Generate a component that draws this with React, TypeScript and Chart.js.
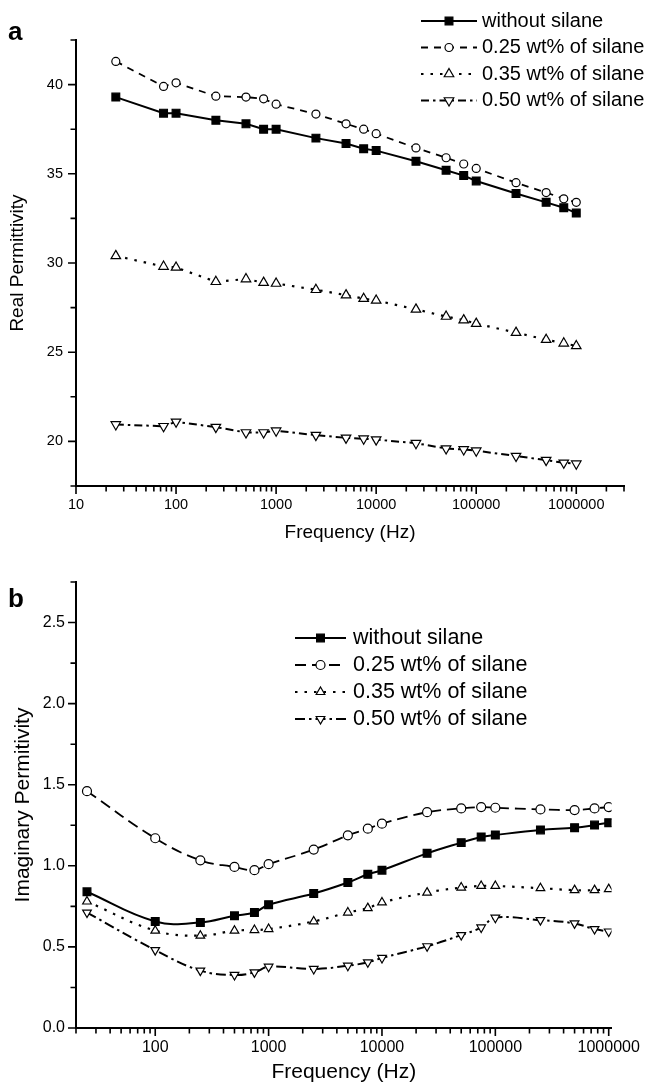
import React, { useEffect, useRef } from 'react';
import { Chart, registerables } from 'chart.js';
import { drawPoint } from 'chart.js/helpers';

Chart.register(...registerables);

const FONT = "'Liberation Sans', Arial, Helvetica, sans-serif";

const seriesNames = ['without silane', '0.25 wt% of silane', '0.35 wt% of silane', '0.50 wt% of silane'];

// ---- Panel a: real permittivity ----
const freqA = [25, 75, 100, 250, 500, 750, 1000, 2500, 5000, 7500, 10000, 25000, 50000, 75000, 100000, 250000, 500000, 750000, 1000000];
const realWithout = [39.3, 38.4, 38.4, 38.0, 37.8, 37.5, 37.5, 37.0, 36.7, 36.4, 36.3, 35.7, 35.2, 34.9, 34.6, 33.9, 33.4, 33.1, 32.8];
const real025 = [41.3, 39.9, 40.1, 39.35, 39.3, 39.2, 38.9, 38.35, 37.8, 37.5, 37.25, 36.45, 35.9, 35.55, 35.3, 34.5, 33.95, 33.6, 33.4];
const real035 = [30.4, 29.8, 29.75, 28.95, 29.1, 28.9, 28.85, 28.5, 28.2, 28.0, 27.9, 27.4, 27.0, 26.8, 26.6, 26.1, 25.7, 25.5, 25.35];
const real050 = [20.95, 20.85, 21.1, 20.8, 20.5, 20.5, 20.6, 20.35, 20.2, 20.15, 20.1, 19.9, 19.6, 19.55, 19.48, 19.18, 18.95, 18.8, 18.75];
const xTickLabelsA = [10, 100, 1000, 10000, 100000, 1000000];
const yTickLabelsA = [20, 25, 30, 35, 40];

// ---- Panel b: imaginary permittivity ----
const freqB = [25, 100, 250, 500, 750, 1000, 2500, 5000, 7500, 10000, 25000, 50000, 75000, 100000, 250000, 500000, 750000, 1000000];
const imagWithout = [0.84, 0.657, 0.651, 0.692, 0.712, 0.76, 0.829, 0.897, 0.948, 0.973, 1.077, 1.143, 1.178, 1.19, 1.221, 1.235, 1.251, 1.266];
const imag025 = [1.46, 1.17, 1.034, 0.993, 0.973, 1.01, 1.1, 1.188, 1.229, 1.26, 1.331, 1.354, 1.362, 1.358, 1.348, 1.344, 1.354, 1.362];
const imag035 = [0.78, 0.6, 0.569, 0.6, 0.604, 0.61, 0.657, 0.712, 0.739, 0.774, 0.835, 0.866, 0.876, 0.876, 0.862, 0.85, 0.85, 0.856];
const imag050 = [0.712, 0.48, 0.354, 0.327, 0.343, 0.378, 0.364, 0.384, 0.405, 0.432, 0.504, 0.573, 0.62, 0.68, 0.665, 0.645, 0.61, 0.595];
const xTickLabelsB = [100, 1000, 10000, 100000, 1000000];
const yTickLabelsB = [0, 0.5, 1, 1.5, 2, 2.5];

// marker / line styles per series (index matches seriesNames)
const STYLES = [
  { pointStyle: 'rect', bg: '#000', rotation: 0, dashA: [] as number[], dashB: [] as number[], width: 2, rA: 5.5, rB: 5.5 },
  { pointStyle: 'circle', bg: '#fff', rotation: 0, dashA: [7, 6], dashB: [11, 6], width: 1.8, rA: 4, rB: 4.5 },
  { pointStyle: 'triangle', bg: '#fff', rotation: 0, dashA: [2.5, 7], dashB: [2.5, 7], width: 2.2, rA: 5.5, rB: 5 },
  { pointStyle: 'triangle', bg: '#fff', rotation: 180, dashA: [8, 4, 2.5, 4], dashB: [10, 4, 2.5, 4], width: 2, rA: 5.5, rB: 5 },
];

function makeDatasets(freq: number[], series: number[][], panel: 'a' | 'b') {
  return series.map((vals, i) => {
    const s = STYLES[i];
    return {
      label: seriesNames[i],
      data: freq.map((f, k) => ({ x: f, y: vals[k] })),
      borderColor: '#000',
      backgroundColor: s.bg,
      borderWidth: s.width,
      borderDash: panel === 'a' ? s.dashA : s.dashB,
      borderCapStyle: 'butt',
      pointStyle: s.pointStyle,
      pointRotation: s.rotation,
      pointRadius: panel === 'a' ? s.rA : s.rB,
      pointBorderWidth: 1.2,
      pointBorderColor: '#000',
      pointBackgroundColor: s.bg,
      tension: panel === 'a' ? 0 : 0.4,
      fill: false,
    };
  });
}

function logTicks(min: number, max: number) {
  const out: { value: number }[] = [];
  for (let e = Math.floor(Math.log10(min)); e <= Math.ceil(Math.log10(max)); e++) {
    for (let m = 1; m <= 9; m++) {
      const v = m * Math.pow(10, e);
      if (v >= min * 0.999999 && v <= max * 1.000001) out.push({ value: v });
    }
  }
  return out;
}

const near = (arr: number[], v: number) => arr.some((t) => Math.abs(t - v) < 1e-6);

const tickMarks = {
  id: 'tickMarks',
  afterDraw(chart: any) {
    const ctx = chart.ctx;
    const xs = chart.scales.x;
    const ys = chart.scales.y;
    const ca = chart.chartArea;
    ctx.save();
    ctx.strokeStyle = '#000';
    ctx.lineWidth = 1.6;
    ctx.beginPath();
    xs.ticks.forEach((t: any) => {
      const p = xs.getPixelForValue(t.value);
      const len = t.label ? 7 : 4.5;
      ctx.moveTo(p, ca.bottom);
      ctx.lineTo(p, ca.bottom + 1 + len);
    });
    ys.ticks.forEach((t: any) => {
      const p = ys.getPixelForValue(t.value);
      const len = t.label ? 7 : 4.5;
      ctx.moveTo(ca.left - 1 - len, p);
      ctx.lineTo(ca.left, p);
    });
    ctx.stroke();
    ctx.restore();
  },
};

const lineLegend = {
  id: 'lineLegend',
  afterDraw(chart: any, _args: any, opts: any) {
    if (!opts || !opts.show) return;
    const ctx = chart.ctx;
    ctx.save();
    chart.data.datasets.forEach((ds: any, i: number) => {
      const y = opts.y + i * opts.dy;
      ctx.save();
      ctx.strokeStyle = '#000';
      ctx.lineWidth = ds.borderWidth;
      ctx.lineCap = 'butt';
      ctx.setLineDash(ds.borderDash || []);
      ctx.beginPath();
      ctx.moveTo(opts.x1, y);
      ctx.lineTo(opts.x2, y);
      ctx.stroke();
      ctx.setLineDash([]);
      ctx.fillStyle = ds.pointBackgroundColor;
      ctx.strokeStyle = '#000';
      ctx.lineWidth = ds.pointBorderWidth;
      drawPoint(ctx, { pointStyle: ds.pointStyle, rotation: ds.pointRotation, radius: ds.pointRadius, borderWidth: ds.pointBorderWidth } as any, (opts.x1 + opts.x2) / 2, y);
      ctx.restore();
      ctx.fillStyle = '#000';
      ctx.font = `${opts.fontSize}px ${FONT}`;
      ctx.textBaseline = 'middle';
      ctx.textAlign = 'left';
      ctx.fillText(ds.label, opts.textX, y);
    });
    ctx.restore();
  },
};

const panelLabel = {
  id: 'panelLabel',
  afterDraw(chart: any, _args: any, opts: any) {
    if (!opts || !opts.text) return;
    const ctx = chart.ctx;
    ctx.save();
    ctx.fillStyle = '#000';
    ctx.font = `bold ${opts.size}px ${FONT}`;
    ctx.textBaseline = 'alphabetic';
    ctx.textAlign = 'left';
    ctx.fillText(opts.text, opts.x, opts.y);
    ctx.restore();
  },
};

function buildConfig(p: {
  datasets: any[];
  xMin: number; xMax: number; yMin: number; yMax: number; yStep: number;
  xLabels: number[]; yLabels: number[]; yDecimals: number;
  yTitle: string; tickSize: number; titleSize: number;
  padTop: number; padRight: number; xHeight: number;
  yTickPad: number; xTickPad: number; yTitlePad: number; xTitlePad: number;
  legend: any; label: any;
}) {
  return {
    type: 'line',
    data: { datasets: p.datasets },
    options: {
      responsive: false,
      animation: false,
      devicePixelRatio: 1,
      layout: { padding: { left: 0, right: p.padRight, top: p.padTop, bottom: 0 } },
      plugins: {
        legend: { display: false },
        tooltip: { enabled: false },
        lineLegend: p.legend,
        panelLabel: p.label,
      },
      scales: {
        x: {
          type: 'logarithmic',
          position: 'bottom',
          min: p.xMin,
          max: p.xMax,
          grid: { display: false, drawTicks: false },
          border: { display: true, color: '#000', width: 2 },
          afterBuildTicks: (scale: any) => {
            scale.ticks = logTicks(scale.min, scale.max);
          },
          ticks: {
            autoSkip: false,
            maxRotation: 0,
            minRotation: 0,
            padding: p.xTickPad,
            color: '#000',
            font: { family: FONT, size: p.tickSize },
            callback: (v: any) => (near(p.xLabels, Number(v)) ? String(Math.round(Number(v))) : ''),
          },
          title: {
            display: true,
            text: 'Frequency (Hz)',
            color: '#000',
            font: { family: FONT, size: p.titleSize, lineHeight: 1 },
            padding: { top: 0, bottom: p.xTitlePad },
          },
          afterFit: (scale: any) => {
            scale.height = p.xHeight;
          },
        },
        y: {
          type: 'linear',
          position: 'left',
          min: p.yMin,
          max: p.yMax,
          grid: { display: false, drawTicks: false },
          border: { display: true, color: '#000', width: 2 },
          ticks: {
            stepSize: p.yStep,
            autoSkip: false,
            padding: p.yTickPad,
            color: '#000',
            font: { family: FONT, size: p.tickSize },
            callback: (v: any) => (near(p.yLabels, Number(v)) ? Number(v).toFixed(p.yDecimals) : ''),
          },
          title: {
            display: true,
            text: p.yTitle,
            color: '#000',
            font: { family: FONT, size: p.titleSize, lineHeight: 1 },
            padding: { top: p.yTitlePad, bottom: 0 },
          },
          afterFit: (scale: any) => {
            scale.width = 76;
          },
        },
      },
    },
    plugins: [tickMarks, lineLegend, panelLabel],
  } as any;
}

export default function App() {
  const refA = useRef<HTMLCanvasElement | null>(null);
  const refB = useRef<HTMLCanvasElement | null>(null);

  useEffect(() => {
    const chartA = new Chart(
      refA.current as HTMLCanvasElement,
      buildConfig({
        datasets: makeDatasets(freqA, [realWithout, real025, real035, real050], 'a'),
        xMin: 10, xMax: 3e6, yMin: 17.5, yMax: 42.5, yStep: 2.5,
        xLabels: xTickLabelsA, yLabels: yTickLabelsA, yDecimals: 0,
        yTitle: 'Real Permittivity', tickSize: 14.5, titleSize: 19,
        padTop: 40, padRight: 26, xHeight: 59,
        yTickPad: 13, xTickPad: 10, yTitlePad: 8.5, xTitlePad: 2.5,
        legend: { show: true, x1: 421, x2: 477, textX: 482, y: 21, dy: 26.5, fontSize: 20 },
        label: { text: 'a', x: 8, y: 40, size: 26 },
      })
    );
    const chartB = new Chart(
      refB.current as HTMLCanvasElement,
      buildConfig({
        datasets: makeDatasets(freqB, [imagWithout, imag025, imag035, imag050], 'b'),
        xMin: 20, xMax: 1.06e6, yMin: 0, yMax: 2.75, yStep: 0.25,
        xLabels: xTickLabelsB, yLabels: yTickLabelsB, yDecimals: 1,
        yTitle: 'Imaginary Permitivity', tickSize: 16, titleSize: 21,
        padTop: 37, padRight: 28, xHeight: 60,
        yTickPad: 11, xTickPad: 10, yTitlePad: 13, xTitlePad: 5.5,
        legend: { show: true, x1: 295, x2: 346, textX: 353, y: 93, dy: 27, fontSize: 21.5 },
        label: { text: 'b', x: 8, y: 62, size: 26 },
      })
    );
    return () => {
      chartA.destroy();
      chartB.destroy();
    };
  }, []);

  return (
    <div style={{ position: 'fixed', left: 0, top: 0, width: 650, height: 1088, background: '#fff' }}>
      <canvas ref={refA} width={650} height={545} style={{ position: 'absolute', left: 0, top: 0, width: 650, height: 545 }} />
      <canvas ref={refB} width={650} height={543} style={{ position: 'absolute', left: 0, top: 545, width: 650, height: 543 }} />
    </div>
  );
}
